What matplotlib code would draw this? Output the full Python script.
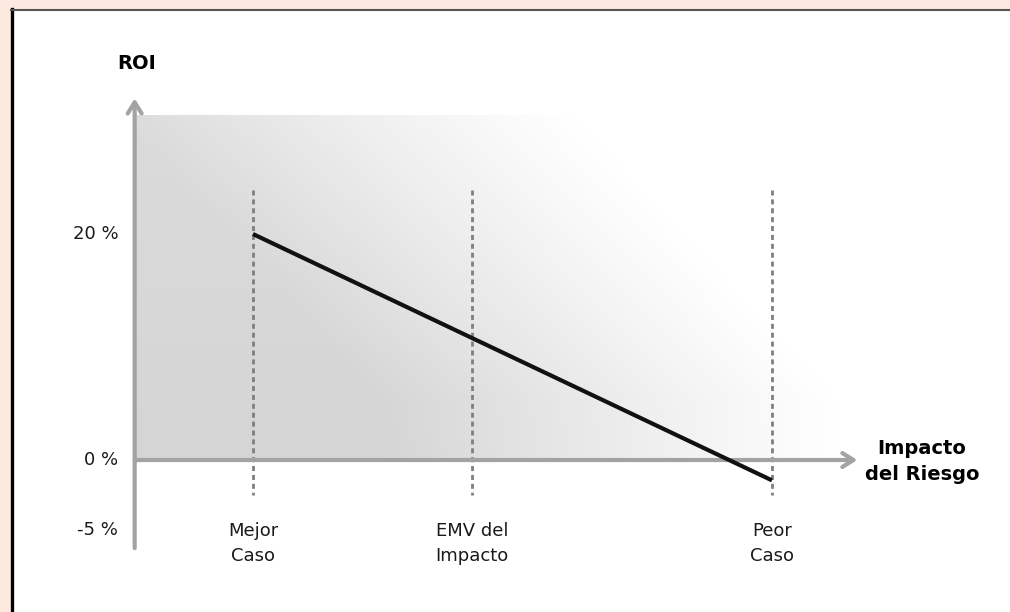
import numpy as np
import matplotlib
matplotlib.use("Agg")
import matplotlib.pyplot as plt
from matplotlib.patches import Rectangle

# ---------------------------
# Data
# ---------------------------
case_labels = ["Mejor\nCaso", "EMV del\nImpacto", "Peor\nCaso"]
case_x = [1.0, 2.0, 3.37]          # position along "Impacto del Riesgo"
roi_values = [20.0, 10.8, -1.8]    # ROI in %
ytick_pos = [20, 0, -6.2]
ytick_labels = ["20 %", "0 %", "-5 %"]

AXIS_X0 = 0.46      # where the ROI axis sits
X_TIP = 3.76        # end of the impact arrow
Y_BOTTOM = -7.8
Y_TIP = 32.0
SHADE_RIGHT = 3.68
SHADE_TOP = 30.5

plt.rcParams['font.family'] = ['DejaVu Sans']

fig = plt.figure(figsize=(10.1, 6.12), dpi=100, facecolor='#fde9df')

# white panel with dark frame (left + top edges visible)
panel = Rectangle((11 / 1010, -0.01), 1.02, 1 - 9 / 612 + 0.01, transform=fig.transFigure,
                  facecolor='white', edgecolor='none', zorder=-2)
fig.patches.append(panel)
fig.add_artist(plt.Line2D([11.5 / 1010, 11.5 / 1010], [0, 1 - 9 / 612], transform=fig.transFigure,
                          color='black', lw=2.4, zorder=-1))
fig.add_artist(plt.Line2D([11 / 1010, 1.0], [1 - 9.5 / 612, 1 - 9.5 / 612], transform=fig.transFigure,
                          color='#555555', lw=1.5, zorder=-1))

ax = fig.add_axes([0, 0, 1, 1])
ax.set_xlim(-0.155, 4.457)
ax.set_ylim(-13.45, 40.71)
ax.set_facecolor('none')
ax.axis('off')

# ---------------------------
# Fading grey shading behind the line
# ---------------------------
nx, ny = 600, 300
u = np.linspace(0, 1, nx)
v = np.linspace(0, 1, ny)
U, V = np.meshgrid(u, v)
u_edge = np.minimum(1.0, 1.0 - 0.452 * (V - 0.174))
dens = np.clip((u_edge - U) / 0.65, 0, 1) ** 1.1 * (1 - 0.15 * V)
rgba = np.zeros((ny, nx, 4))
rgba[..., :3] = 0.70
rgba[..., 3] = 0.55 * dens
ax.imshow(rgba, extent=(AXIS_X0, SHADE_RIGHT, 0, SHADE_TOP), origin='lower',
          aspect='auto', interpolation='bilinear', zorder=1)

# ---------------------------
# Dashed verticals at each case
# ---------------------------
for xc in case_x:
    ax.plot([xc, xc], [23.9, -3.1], color='#7f7f7f', lw=2.0,
            linestyle=(0, (1.8, 1.4)), zorder=2)

# ---------------------------
# Axes as arrows
# ---------------------------
arrow_kw = dict(arrowstyle='->,head_length=0.8,head_width=0.5', color='#a3a3a3', lw=3,
                shrinkA=0, shrinkB=0)
ax.annotate('', xy=(AXIS_X0, Y_TIP), xytext=(AXIS_X0, Y_BOTTOM), arrowprops=arrow_kw, zorder=3)
ax.annotate('', xy=(X_TIP, 0), xytext=(AXIS_X0, 0), arrowprops=arrow_kw, zorder=3)

# ---------------------------
# ROI line
# ---------------------------
ax.plot(case_x, roi_values, color='#111111', lw=3, solid_capstyle='butt', zorder=4)

# ---------------------------
# Labels
# ---------------------------
for yp, lab in zip(ytick_pos, ytick_labels):
    ax.text(0.385, yp, lab, ha='right', va='center', fontsize=13, color='#1a1a1a')

for xc, lab in zip(case_x, case_labels):
    ax.text(xc, -7.4, lab, ha='center', va='center', fontsize=13, linespacing=1.5,
            color='#1a1a1a')

ax.text(0.47, 35.1, "ROI", ha='center', va='center', fontsize=14, fontweight='bold')
ax.text(4.055, -0.1, "Impacto\ndel Riesgo", ha='center', va='center', fontsize=14,
        fontweight='bold', linespacing=1.45)

fig.savefig("out.png", dpi=100, facecolor=fig.get_facecolor())
